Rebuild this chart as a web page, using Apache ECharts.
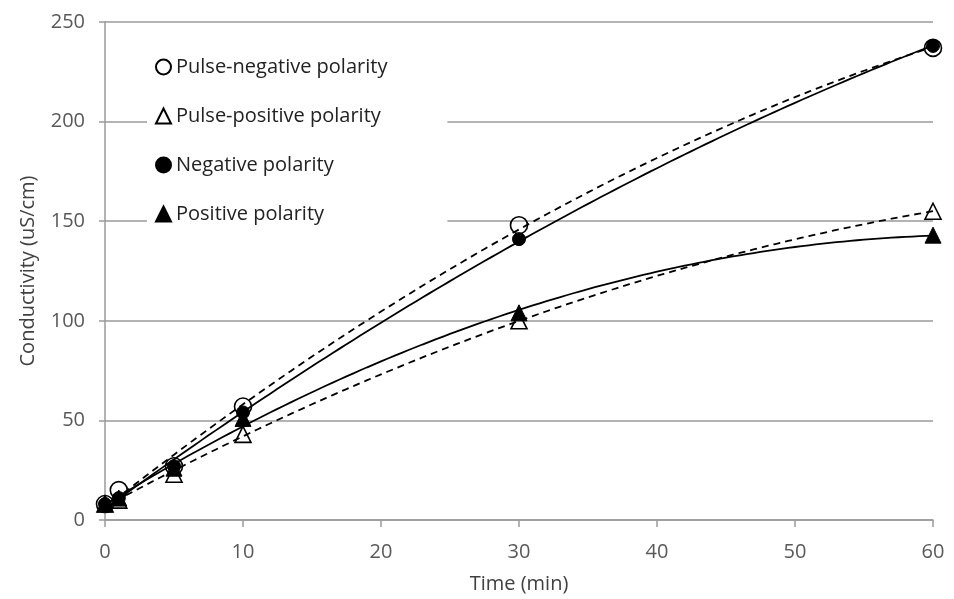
<!DOCTYPE html>
<html>
<head>
<meta charset="utf-8">
<script src="https://cdn.jsdelivr.net/npm/echarts@6/dist/echarts.min.js"></script>
<style>
  html, body { margin: 0; padding: 0; background: #fff; }
  #chart { width: 954px; height: 599px; }
</style>
</head>
<body>
<div id="chart"></div>
<script>
// Sampling times (min)
const times = [0, 1, 5, 10, 30, 60];

// Conductivity readings (uS/cm)
const pulseNegative = [8, 15, 27, 57, 148, 237];
const pulsePositive = [8, 10, 23, 43, 100, 155];
const negative      = [8, 11, 27, 54, 141, 238];
const positive      = [8, 11, 26, 51, 104, 143];

const seriesNames = ['Pulse-negative polarity', 'Pulse-positive polarity', 'Negative polarity', 'Positive polarity'];
const xTicks = [0, 10, 20, 30, 40, 50, 60];
const yTicks = [0, 50, 100, 150, 200, 250];

// Second-order polynomial least-squares trendline
function quadFit(xs, ys) {
  let s = [0, 0, 0, 0, 0], t = [0, 0, 0];
  for (let i = 0; i < xs.length; i++) {
    let p = 1;
    for (let k = 0; k < 5; k++) { s[k] += p; if (k < 3) t[k] += p * ys[i]; p *= xs[i]; }
  }
  const A = [[s[0], s[1], s[2], t[0]], [s[1], s[2], s[3], t[1]], [s[2], s[3], s[4], t[2]]];
  for (let c = 0; c < 3; c++) {
    for (let r = c + 1; r < 3; r++) {
      const f = A[r][c] / A[c][c];
      for (let k = c; k < 4; k++) A[r][k] -= f * A[c][k];
    }
  }
  const co = [0, 0, 0];
  for (let r = 2; r >= 0; r--) {
    let v = A[r][3];
    for (let k = r + 1; k < 3; k++) v -= A[r][k] * co[k];
    co[r] = v / A[r][r];
  }
  const out = [];
  for (let x = 0; x <= 60; x += 0.5) out.push([x, co[0] + co[1] * x + co[2] * x * x]);
  return out;
}

const pts = arr => times.map((t, i) => [t, arr[i]]);

const chart = echarts.init(document.getElementById('chart'), null, { renderer: 'canvas' });
const FONT = '"Open Sans", Lato, sans-serif';

function scatter(name, data, symbol, size, filled) {
  return {
    name, type: 'scatter', data, symbol, symbolSize: size, z: 5,
    itemStyle: filled
      ? { color: '#000', borderColor: '#000', borderWidth: 1, opacity: 1 }
      : { color: 'rgba(255,255,255,0)', borderColor: '#000', borderWidth: 1.6, opacity: 1 }
  };
}
function trend(data, dashed) {
  return {
    type: 'line', data: quadFit(times, data), showSymbol: false, symbol: 'none',
    silent: true, z: 3,
    lineStyle: { color: '#000', width: 1.8, type: dashed ? [7, 5] : 'solid' }
  };
}

chart.setOption({
  animation: false,
  backgroundColor: '#fff',
  grid: { left: 105, right: 21, top: 22, bottom: 79 },
  legend: {
    orient: 'vertical', left: 147, top: 49,
    itemWidth: 15, itemHeight: 15, itemGap: 29,
    backgroundColor: '#fff',
    padding: [8, 60, 12, 8],
    textStyle: { fontFamily: FONT, fontSize: 20, color: '#222' },
    data: seriesNames
  },
  xAxis: {
    type: 'value', min: 0, max: 60, interval: 10,
    name: 'Time (min)', nameLocation: 'middle', nameGap: 54,
    nameTextStyle: { fontFamily: FONT, fontSize: 20, color: '#404040' },
    axisLine: { lineStyle: { color: '#9a9a9a', width: 1.5 } },
    axisTick: { show: true, length: 7, lineStyle: { color: '#9a9a9a', width: 1.5 } },
    axisLabel: { fontFamily: FONT, fontSize: 20, color: '#595959', margin: 22,
                 formatter: v => xTicks.includes(v) ? String(v) : '' },
    splitLine: { show: false }
  },
  yAxis: {
    type: 'value', min: 0, max: 250, interval: 50,
    name: 'Conductivity (uS/cm)', nameLocation: 'middle', nameGap: 67,
    nameTextStyle: { fontFamily: FONT, fontSize: 20, color: '#404040' },
    axisLine: { show: true, lineStyle: { color: '#9a9a9a', width: 1.5 } },
    axisTick: { show: true, length: 6, lineStyle: { color: '#9a9a9a', width: 1.5 } },
    axisLabel: { fontFamily: FONT, fontSize: 20, color: '#595959', margin: 20,
                 formatter: v => yTicks.includes(v) ? String(v) : '' },
    splitLine: { show: true, lineStyle: { color: '#9a9a9a', width: 1.5 } }
  },
  series: [
    trend(pulseNegative, true),
    trend(pulsePositive, true),
    trend(negative, false),
    trend(positive, false),
    scatter(seriesNames[0], pts(pulseNegative), 'circle', 17, false),
    scatter(seriesNames[1], pts(pulsePositive), 'triangle', 16, false),
    scatter(seriesNames[2], pts(negative), 'circle', 13, true),
    scatter(seriesNames[3], pts(positive), 'triangle', 16, true)
  ]
});
</script>
</body>
</html>
